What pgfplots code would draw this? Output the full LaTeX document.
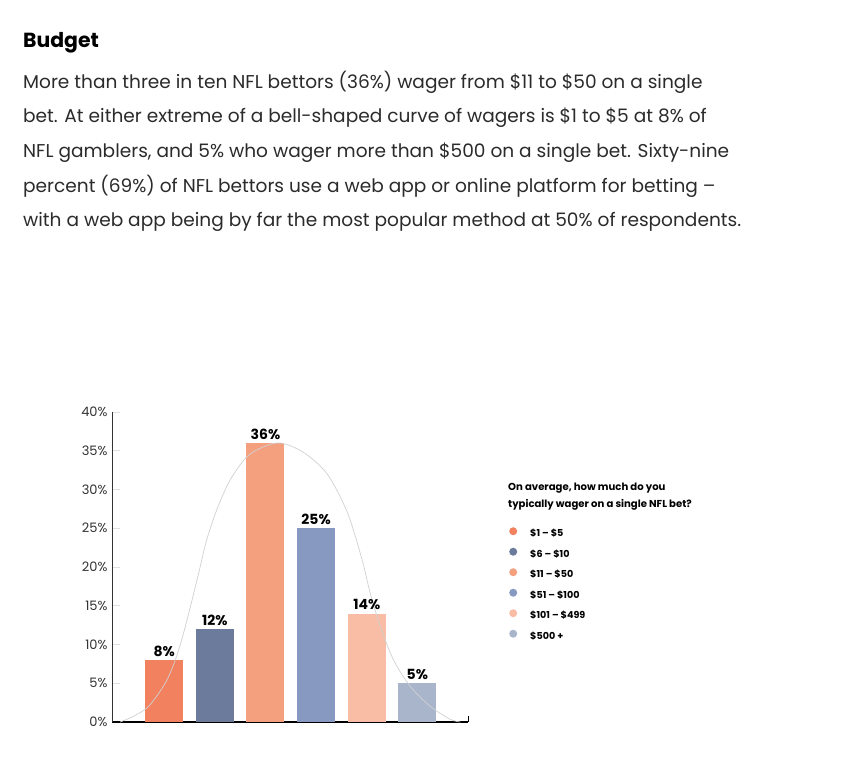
\documentclass[border=0pt]{standalone}
\usepackage{pgfplots}
\pgfplotsset{compat=1.18}
\usepackage{fontspec}
\setmainfont{Poppins}
\definecolor{c1}{HTML}{F2825F}
\definecolor{c2}{HTML}{6C7A9C}
\definecolor{c3}{HTML}{F4A07F}
\definecolor{c4}{HTML}{8799C1}
\definecolor{c5}{HTML}{F9BCA4}
\definecolor{c6}{HTML}{A8B5CB}
\definecolor{bodytxt}{HTML}{2B2B2B}
\begin{document}
\begin{tikzpicture}
\useasboundingbox (0,0) rectangle (862pt,-769pt);
\fill[white] (0,0) rectangle (862pt,-769pt);
\node[anchor=base west, inner sep=0pt] at (23pt,-47.7pt) {\fontsize{20.4}{20.4}\selectfont\bfseries Budget};
\begin{scope}[every node/.style={anchor=base west, inner sep=0pt, text=bodytxt, font=\fontsize{18.55}{18.55}\selectfont}]
\node at (23pt,-88.3pt) {More than three in ten NFL bettors (36\%) wager from \$11 to \$50 on a single};
\node at (23pt,-122.9pt) {bet. At either extreme of a bell-shaped curve of wagers is \$1 to \$5 at 8\% of};
\node at (23pt,-157.5pt) {NFL gamblers, and 5\% who wager more than \$500 on a single bet. Sixty-nine};
\node at (23pt,-192.1pt) {percent (69\%) of NFL bettors use a web app or online platform for betting –};
\node at (23pt,-226.7pt) {with a web app being by far the most popular method at 50\% of respondents.};
\end{scope}
\node[anchor=base west, inner sep=0pt, font=\fontsize{10.1}{10.1}\selectfont\bfseries] at (508pt,-490pt) {On average, how much do you};
\node[anchor=base west, inner sep=0pt, font=\fontsize{10.1}{10.1}\selectfont\bfseries] at (508pt,-507.3pt) {typically wager on a single NFL bet?};
\begin{axis}[
  at={(112pt,-722pt)}, anchor=south west,
  scale only axis, width=356pt, height=310pt,
  xmin=-1.03, xmax=6.0, ymin=0, ymax=40,
  clip=false,
  axis x line*=bottom, axis y line*=left,
  x axis line style={black, line width=1.6pt},
  y axis line style={black!80, line width=1pt},
  xtick=\empty,
  ytick={0,5,...,40},
  yticklabel={\pgfmathprintnumber{\tick}\%},
  /pgf/number format/assume math mode=true,
  yticklabel style={font=\fontsize{13}{13}\selectfont, text=black!80, xshift=-1pt},
  tick align=inside, major tick length=8pt,
  ytick style={black!12, line width=0.8pt},
  nodes near coords={\pgfmathprintnumber{\pgfplotspointmeta}\%},
  every node near coord/.append style={font=\fontsize{14}{14}\selectfont\bfseries, anchor=base, yshift=4pt, inner sep=0pt},
  legend cell align=left,
  legend image code/.code={\fill (4pt,3pt) circle (4pt);},
  legend style={at={(1.1152,0.629)}, anchor=north west, draw=none, fill=none, inner sep=0pt,
    row sep=9.0pt, font=\fontsize{9.6}{9.6}\selectfont\bfseries,
    nodes={inner sep=0pt, text height=7pt, text depth=2pt},
    /tikz/every odd column/.append style={column sep=13pt}},
]
\addplot[ybar, bar width=38pt, bar shift=0pt, fill=c1, draw=none] coordinates {(0,8)};
\addlegendentry{\$1 – \$5}
\addplot[ybar, bar width=38pt, bar shift=0pt, fill=c2, draw=none] coordinates {(1,12)};
\addlegendentry{\$6 – \$10}
\addplot[ybar, bar width=38pt, bar shift=0pt, fill=c3, draw=none] coordinates {(2,36)};
\addlegendentry{\$11 – \$50}
\addplot[ybar, bar width=38pt, bar shift=0pt, fill=c4, draw=none] coordinates {(3,25)};
\addlegendentry{\$51 – \$100}
\addplot[ybar, bar width=38pt, bar shift=0pt, fill=c5, draw=none] coordinates {(4,14)};
\addlegendentry{\$101 – \$499}
\addplot[ybar, bar width=38pt, bar shift=0pt, fill=c6, draw=none] coordinates {(5,5)};
\addlegendentry{\$500 +}
\addplot[smooth, black!18, line width=0.7pt, forget plot, nodes near coords={}] coordinates {
(-0.87,0) (-0.62,0.7) (-0.31,2.0) (0.02,5.0) (0.22,8.0) (0.38,11.4) (0.55,15.7) (0.71,20.0)
(0.84,23.5) (1.04,27.4) (1.30,31.2) (1.63,34.2) (1.96,35.5) (2.3,36) (2.75,34.8) (3.22,32)
(3.62,27) (3.91,20.9) (4.07,16.6) (4.27,12.3) (4.53,8.0) (4.86,4.6) (5.26,2.0) (5.65,0.35) (5.85,0)};
\draw[black, line width=1pt] (rel axis cs:1,0) -- ([yshift=6pt]rel axis cs:1,0);
\end{axis}
\end{tikzpicture}
\end{document}
